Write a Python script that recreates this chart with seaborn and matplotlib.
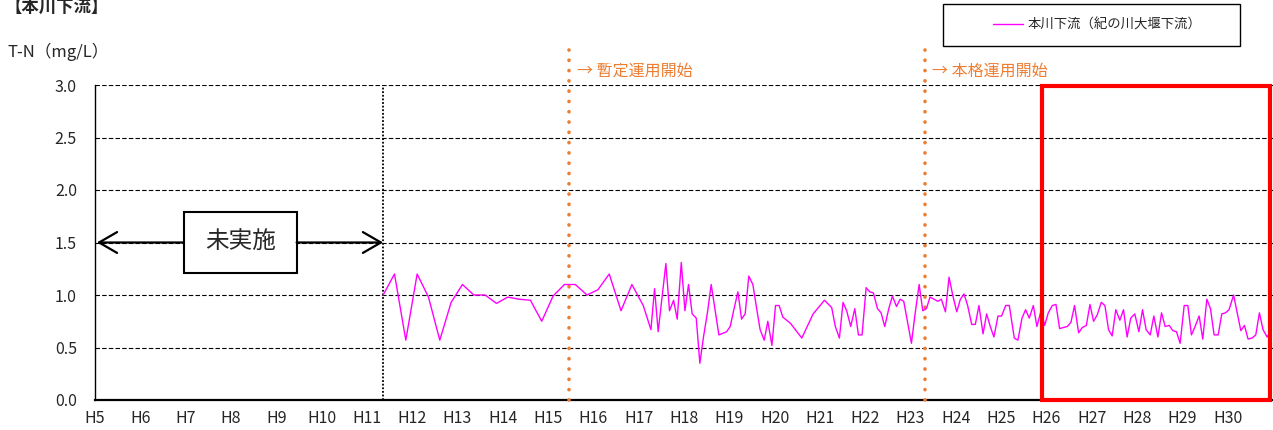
import matplotlib
matplotlib.use("Agg")
import matplotlib.pyplot as plt
from matplotlib.patches import Rectangle, FancyArrowPatch
from matplotlib.lines import Line2D
import seaborn as sns
import pandas as pd

# T-N observations at 本川下流 (紀の川大堰下流); x is the fiscal year (H) as a decimal
years = [
    11.36, 11.61, 11.86, 12.11, 12.36, 12.61, 12.86, 13.11, 13.36, 13.61,
    13.86, 14.11, 14.36, 14.61, 14.86, 15.11, 15.36, 15.60, 15.86, 16.10,
    16.35, 16.61, 16.85, 17.10, 17.27, 17.35, 17.43, 17.60, 17.68, 17.77,
    17.85, 17.94, 18.02, 18.10, 18.18, 18.27, 18.35, 18.43, 18.52, 18.60,
    18.77, 18.94, 19.02, 19.10, 19.19, 19.27, 19.35, 19.43, 19.52, 19.60,
    19.68, 19.77, 19.85, 19.94, 20.02, 20.10, 20.18, 20.35, 20.60, 20.85,
    21.10, 21.26, 21.34, 21.43, 21.51, 21.59, 21.68, 21.77, 21.85, 21.93,
    22.02, 22.10, 22.18, 22.27, 22.35, 22.43, 22.52, 22.60, 22.69, 22.77,
    22.85, 22.93, 23.02, 23.10, 23.19, 23.27, 23.35, 23.43, 23.52, 23.60,
    23.68, 23.77, 23.85, 23.93, 24.02, 24.10, 24.18, 24.26, 24.35, 24.43,
    24.51, 24.60, 24.68, 24.76, 24.84, 24.93, 25.01, 25.10, 25.18, 25.29,
    25.37, 25.46, 25.54, 25.62, 25.71, 25.79, 25.88, 25.96, 26.04, 26.13,
    26.21, 26.29, 26.37, 26.46, 26.54, 26.62, 26.71, 26.79, 26.88, 26.96,
    27.04, 27.12, 27.21, 27.29, 27.37, 27.45, 27.53, 27.62, 27.70, 27.78,
    27.86, 27.95, 28.04, 28.12, 28.20, 28.29, 28.37, 28.46, 28.54, 28.62,
    28.71, 28.79, 28.87, 28.95, 29.04, 29.12, 29.20, 29.28, 29.37, 29.45,
    29.54, 29.62, 29.70, 29.79, 29.87, 29.95, 30.03, 30.13, 30.21, 30.29,
    30.37, 30.45, 30.54, 30.62, 30.70, 30.78, 30.87, 30.93,
]
tn = [
    1.00, 1.20, 0.57, 1.20, 0.98, 0.57, 0.93, 1.10, 1.00, 1.00,
    0.92, 0.98, 0.96, 0.95, 0.75, 0.99, 1.10, 1.10, 1.00, 1.05,
    1.20, 0.85, 1.10, 0.90, 0.67, 1.06, 0.65, 1.30, 0.85, 0.95,
    0.77, 1.31, 0.85, 1.10, 0.82, 0.78, 0.35, 0.60, 0.84, 1.10,
    0.62, 0.65, 0.70, 0.86, 1.03, 0.77, 0.82, 1.18, 1.10, 0.88,
    0.67, 0.57, 0.75, 0.52, 0.90, 0.90, 0.79, 0.73, 0.59, 0.82,
    0.95, 0.88, 0.70, 0.59, 0.93, 0.85, 0.70, 0.87, 0.62, 0.62,
    1.07, 1.03, 1.02, 0.87, 0.83, 0.70, 0.87, 0.99, 0.89, 0.96,
    0.94, 0.75, 0.54, 0.82, 1.10, 0.85, 0.87, 0.98, 0.96, 0.94,
    0.96, 0.84, 1.17, 1.00, 0.84, 0.96, 1.01, 0.90, 0.72, 0.72,
    0.90, 0.63, 0.82, 0.70, 0.60, 0.80, 0.80, 0.90, 0.90, 0.59,
    0.57, 0.78, 0.86, 0.78, 0.90, 0.70, 0.85, 0.71, 0.83, 0.90,
    0.91, 0.68, 0.69, 0.70, 0.74, 0.90, 0.64, 0.69, 0.71, 0.91,
    0.75, 0.81, 0.93, 0.90, 0.67, 0.61, 0.86, 0.76, 0.86, 0.60,
    0.78, 0.82, 0.65, 0.86, 0.67, 0.62, 0.80, 0.60, 0.83, 0.70,
    0.71, 0.66, 0.65, 0.54, 0.90, 0.90, 0.62, 0.70, 0.80, 0.58,
    0.96, 0.87, 0.62, 0.62, 0.82, 0.83, 0.86, 1.00, 0.83, 0.66,
    0.71, 0.58, 0.59, 0.62, 0.83, 0.67, 0.60, 0.64,
]

tick_years = list(range(5, 31))
tick_labels = [f"H{y}" for y in tick_years]
y_ticks = [0.0, 0.5, 1.0, 1.5, 2.0, 2.5, 3.0]

series_name = "本川下流（紀の川大堰下流）"
survey_start = 11.36          # start of monitoring
provisional_start = 15.46     # 暫定運用開始
full_start = 23.31            # 本格運用開始
highlight_range = (25.90, 30.94)

df = pd.DataFrame({"year": years, "tn": tn})

sns.set_theme(style="white")
plt.rcParams["font.family"] = ["Noto Sans CJK JP", "DejaVu Sans"]

W, H = 1273, 430
fig = plt.figure(figsize=(W / 100, H / 100), dpi=100)
ax = fig.add_axes([95 / W, 30 / H, 1178 / W, 315 / H])

sns.lineplot(data=df, x="year", y="tn", color="#FF00FF", linewidth=1.0,
             estimator=None, sort=True, ax=ax, label=series_name, zorder=4)

ax.set_xlim(5, 31)
ax.set_ylim(0, 3.0)
ax.set_xticks(tick_years)
ax.set_xticklabels(tick_labels, fontsize=11.5)
ax.set_yticks(y_ticks)
ax.set_yticklabels([f"{v:.1f}" for v in y_ticks], fontsize=11.5)
ax.set_xlabel("")
ax.set_ylabel("")
ax.tick_params(axis="x", direction="in", length=4, width=0.8, color="black", pad=7)
ax.tick_params(axis="y", length=0, pad=13)

# dashed horizontal gridlines
for v in y_ticks[1:]:
    ax.axhline(v, color="black", linewidth=0.8, linestyle=(0, (4, 2)), zorder=1)

for side in ["top", "right"]:
    ax.spines[side].set_visible(False)
ax.spines["left"].set_color("black")
ax.spines["left"].set_linewidth(1.0)
ax.spines["bottom"].set_color("black")
ax.spines["bottom"].set_linewidth(1.6)

# start of monitoring
ax.plot([survey_start, survey_start], [0, 3.0], color="black", linewidth=1.3,
        linestyle=(0, (1, 1)), zorder=2)

# operation milestones
orange = "#ED7D31"
for xv, label in [(provisional_start, "→ 暫定運用開始"), (full_start, "→ 本格運用開始")]:
    ax.plot([xv, xv], [0, 3.33], color=orange, linewidth=2.6,
            linestyle=(0, (0.05, 2.8)), dash_capstyle="round", clip_on=False, zorder=3)
    ax.text(xv + 0.17, 3.13, label, color=orange, fontsize=11.5, ha="left", va="center",
            clip_on=False)

# 未実施 period
box_x0, box_x1, box_y0, box_y1 = 6.96, 9.45, 1.21, 1.79
ax.add_patch(Rectangle((box_x0, box_y0), box_x1 - box_x0, box_y1 - box_y0,
                       facecolor="white", edgecolor="black", linewidth=1.5, zorder=5))
ax.text((box_x0 + box_x1) / 2, 1.5, "未実施", fontsize=17, ha="center", va="center", zorder=6)
for x_from, x_to in [(box_x0, 5.04), (box_x1, survey_start)]:
    ax.add_patch(FancyArrowPatch((x_from, 1.5), (x_to, 1.5),
                                 arrowstyle="->,head_length=1.3,head_width=0.75",
                                 mutation_scale=10, color="black", linewidth=1.6,
                                 shrinkA=0, shrinkB=0, zorder=5))

# highlighted recent period
ax.add_patch(Rectangle((highlight_range[0], 0.0), highlight_range[1] - highlight_range[0], 2.99,
                       fill=False, edgecolor="#FF0000", linewidth=3.0, clip_on=False, zorder=7))

# titles
fig.text(5 / W, 1 - 7 / H, "【本川下流】", fontsize=12.5, fontweight="bold", ha="left", va="center")
fig.text(8 / W, 1 - 52 / H, "T-N（mg/L）", fontsize=12, ha="left", va="center")

# legend with a framed box
fig.add_artist(Rectangle((943 / W, 1 - 46 / H), 297 / W, 42 / H, transform=fig.transFigure,
                         fill=False, edgecolor="black", linewidth=1.0))
ax.legend(handles=[Line2D([], [], color="#FF00FF", linewidth=1.0)], labels=[series_name],
          loc="center", bbox_to_anchor=(1097 / W, 1 - 25 / H), bbox_transform=fig.transFigure,
          frameon=False, fontsize=9.6, handlelength=2.3, handletextpad=0.3)

fig.savefig("out.png", dpi=100)
